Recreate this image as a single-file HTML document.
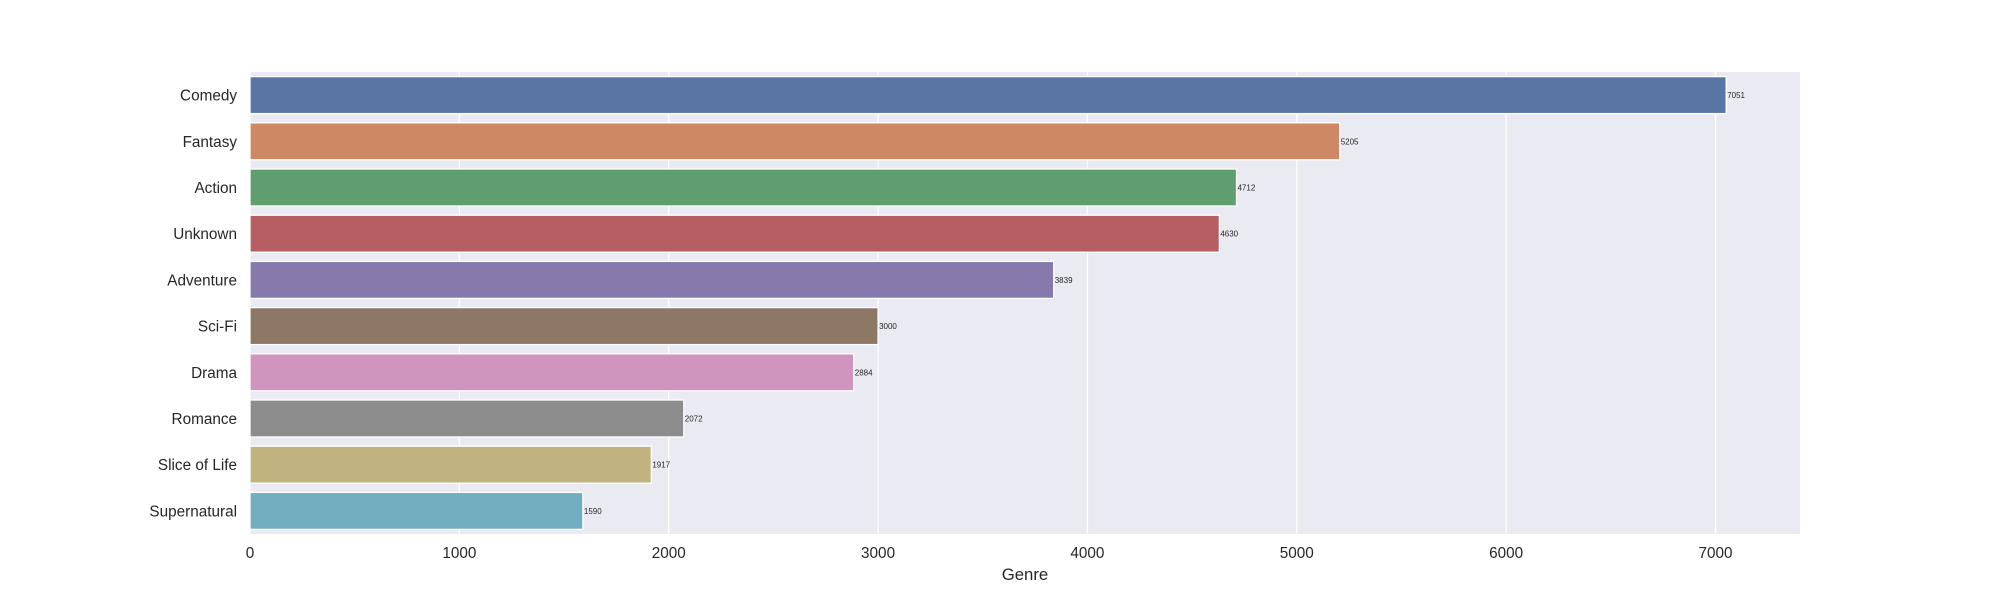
<!DOCTYPE html>
<html><head><meta charset="utf-8"><style>
html,body{margin:0;padding:0;background:#fff;}
svg{display:block;font-family:"Liberation Sans","DejaVu Sans",sans-serif;}
</style></head><body>
<svg id="chart" width="2000" height="600" viewBox="0 0 2000 600">
<rect x="250" y="72" width="1550" height="462" fill="#eaeaf2"/>
<g id="grid"></g><g id="bars"></g><g id="labels"></g><g id="ticks"></g>
<text x="1025" y="580" font-size="16.7" fill="#262626" text-anchor="middle">Genre</text>
</svg>
<script>
const categories = ["Comedy","Fantasy","Action","Unknown","Adventure","Sci-Fi","Drama","Romance","Slice of Life","Supernatural"];
const values = [7051,5205,4712,4630,3839,3000,2884,2072,1917,1590];
const xTicks = [0,1000,2000,3000,4000,5000,6000,7000];
const colors = ["#5975a4","#cc8963","#5f9e6e","#b55d60","#857aab","#8d7866","#d095bf","#8c8c8c","#c1b37f","#71aec0"];
const L=250,R=1800,T=72,B=534;
const xMax = Math.max(...values)*1.05;
const xs = v => L + v/xMax*(R-L);
const band = (B-T)/categories.length;
const yc = i => T + band*(i+0.5);
const NS="http://www.w3.org/2000/svg";
function mk(tag, attrs, parent){const e=document.createElementNS(NS,tag);for(const k in attrs)e.setAttribute(k,attrs[k]);document.getElementById(parent).appendChild(e);return e;}
xTicks.forEach(t=>{
  const g=mk("line",{x1:xs(t),x2:xs(t),y1:T,y2:B,stroke:"#fff","stroke-width":1.3},"grid");
  
  
  const tl=mk("text",{x:xs(t),y:B+24,"font-size":15.3,fill:"#262626","text-anchor":"middle"},"ticks");
  tl.textContent=t;
  
  
});
categories.forEach((c,i)=>{
  const h=band*0.8;
  const r=mk("rect",{x:L,y:yc(i)-h/2,width:xs(values[i])-L,height:h,fill:colors[i],stroke:"#fff","stroke-width":1.3},"bars");
  
  
  const v=mk("text",{x:xs(values[i])+1,y:yc(i)+3,"font-size":8,fill:"#262626"},"labels");
  v.textContent=values[i];
  
  
  const yl=mk("text",{x:L-13,y:yc(i)+5.5,"font-size":15.3,fill:"#262626","text-anchor":"end"},"ticks");
  yl.textContent=c;
  
  
});
</script>
</body></html>
